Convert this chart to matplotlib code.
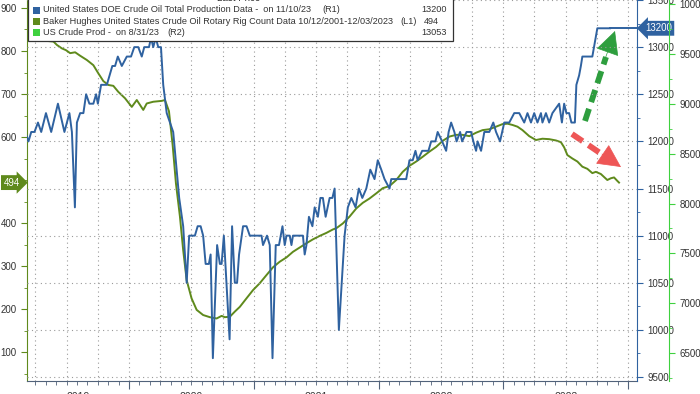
import numpy as np
import matplotlib
matplotlib.use('Agg')
import matplotlib.pyplot as plt
from matplotlib.patches import Rectangle
from matplotlib.transforms import Affine2D

plt.rcParams['font.family'] = ['Liberation Sans', 'DejaVu Sans']

# US weekly crude production (R1, kb/d) - dates as decimal years
prod_t = [2019.168, 2019.194, 2019.216, 2019.242, 2019.270, 2019.296, 2019.334, 2019.376, 2019.430, 2019.482,
          2019.522, 2019.542, 2019.566, 2019.582, 2019.608, 2019.634, 2019.656, 2019.682, 2019.714, 2019.736,
          2019.750, 2019.776, 2019.822, 2019.866, 2019.888, 2019.910, 2019.942, 2019.982,
          2020.016, 2020.042, 2020.074, 2020.102, 2020.122, 2020.160, 2020.176, 2020.194, 2020.214, 2020.234,
          2020.256, 2020.274, 2020.302, 2020.354, 2020.402, 2020.434, 2020.462, 2020.482, 2020.528, 2020.550,
          2020.574, 2020.594, 2020.614, 2020.640, 2020.654, 2020.672, 2020.706, 2020.728, 2020.742, 2020.760,
          2020.806, 2020.826, 2020.848, 2020.866, 2020.882, 2020.914, 2020.942, 2020.968,
          2021.062, 2021.074, 2021.106, 2021.128, 2021.150, 2021.176, 2021.202, 2021.230, 2021.248, 2021.262,
          2021.288, 2021.302, 2021.314, 2021.394, 2021.408, 2021.422, 2021.442, 2021.470, 2021.488, 2021.514,
          2021.534, 2021.554, 2021.576, 2021.608, 2021.630, 2021.648, 2021.682, 2021.728, 2021.754, 2021.782,
          2021.816, 2021.842, 2021.870, 2021.902, 2021.934, 2021.968, 2021.994,
          2022.022, 2022.048, 2022.088, 2022.102, 2022.222, 2022.248, 2022.274, 2022.296, 2022.314, 2022.350,
          2022.400, 2022.422, 2022.456, 2022.474, 2022.510, 2022.542, 2022.562, 2022.582, 2022.608, 2022.626,
          2022.654, 2022.670, 2022.706, 2022.742, 2022.760, 2022.782, 2022.794, 2022.822, 2022.848, 2022.888,
          2022.920, 2022.942, 2022.974,
          2023.008, 2023.048, 2023.088, 2023.128, 2023.168, 2023.194, 2023.222, 2023.248, 2023.274, 2023.302,
          2023.314, 2023.342, 2023.368, 2023.394, 2023.448, 2023.470, 2023.488, 2023.506, 2023.528, 2023.546,
          2023.574, 2023.586, 2023.608, 2023.622, 2023.634, 2023.662, 2023.682, 2023.714, 2023.754, 2023.856]
prod = [12100, 12000, 12100, 12100, 12200, 12100, 12300, 12100, 12400, 12100,
        12300, 12100, 11300, 12200, 12300, 12300, 12500, 12400, 12400, 12500,
        12400, 12600, 12600, 12800, 12800, 12900, 12800, 12900,
        12900, 13000, 13000, 12900, 13000, 13000, 13100, 13000, 13100, 13000,
        13000, 12600, 12300, 12100, 11400, 11100, 10500, 11000, 11000, 11100,
        11100, 11000, 10700, 10700, 10800, 9700, 10900, 10700, 10700, 11000,
        9900, 11100, 10500, 10500, 10800, 11100, 11100, 11000,
        11000, 10900, 11000, 10900, 9700, 10900, 10900, 11100, 10900, 11000,
        11000, 10900, 11000, 11000, 10800, 10900, 11200, 11100, 11300, 11200,
        11400, 11400, 11200, 11400, 11400, 11500, 10000, 11000, 11300, 11400,
        11300, 11500, 11400, 11500, 11700, 11600, 11800,
        11700, 11600, 11500, 11600, 11600, 11800, 11800, 11900, 11800, 11900,
        11900, 12000, 12000, 12100, 12000, 11900, 12100, 12200, 12100, 12000,
        12100, 12000, 12100, 12100, 12000, 11900, 12000, 11900, 12100, 12100,
        12200, 12100, 12000,
        12200, 12200, 12300, 12300, 12200, 12300, 12200, 12300, 12200, 12300,
        12200, 12300, 12200, 12300, 12400, 12200, 12400, 12300, 12300, 12200,
        12200, 12600, 12700, 12800, 12900, 12900, 12900, 12900, 13200, 13200]

# Baker Hughes oil rig count (L1)
rig_t = [2019.184, 2019.288, 2019.394, 2019.422, 2019.462, 2019.494, 2019.528, 2019.568, 2019.608, 2019.662,
         2019.714, 2019.754, 2019.794, 2019.834, 2019.874, 2019.914, 2019.968,
         2020.022, 2020.062, 2020.114, 2020.142, 2020.194, 2020.262, 2020.288, 2020.320, 2020.350, 2020.376,
         2020.408, 2020.434, 2020.462, 2020.501, 2020.542, 2020.594, 2020.648, 2020.702, 2020.742, 2020.768,
         2020.808, 2020.848, 2020.888, 2020.942, 2020.994,
         2021.048, 2021.102, 2021.154, 2021.208, 2021.262, 2021.314, 2021.368, 2021.422, 2021.474, 2021.528,
         2021.582, 2021.634, 2021.662, 2021.714, 2021.768, 2021.822, 2021.874, 2021.928, 2021.982,
         2022.034, 2022.088, 2022.142, 2022.194, 2022.248, 2022.302, 2022.354, 2022.408, 2022.462, 2022.514,
         2022.568, 2022.622, 2022.674, 2022.728, 2022.782, 2022.834, 2022.888, 2022.942, 2022.994,
         2023.034, 2023.074, 2023.114, 2023.154, 2023.208, 2023.262, 2023.314, 2023.368, 2023.422, 2023.462,
         2023.488, 2023.514, 2023.554, 2023.594, 2023.634, 2023.674, 2023.714, 2023.742, 2023.782, 2023.834,
         2023.862, 2023.888, 2023.914, 2023.928]
rigs = [834, 825, 822, 814, 806, 802, 795, 797, 789, 779,
        767, 748, 730, 721, 719, 705, 690,
        670, 686, 663, 678, 682, 684, 686, 660, 580, 492,
        415, 337, 267, 225, 198, 186, 181, 178, 184, 181,
        182, 194, 205, 225, 244,
        260, 279, 297, 310, 320, 333, 343, 353, 362, 370,
        377, 385, 388, 399, 415, 434, 447, 457, 469,
        481, 486, 500, 519, 533, 543, 554, 566, 577, 591,
        601, 605, 605, 602, 610, 616, 618, 624, 630,
        631, 628, 624, 616, 602, 593, 596, 595, 592, 588,
        576, 558, 550, 543, 531, 526, 516, 519, 514, 500,
        504, 506, 498, 494]

years = [2019, 2020, 2021, 2022, 2023]
legend_labels = ['United States DOE Crude Oil Total Production Data -  on 11/10/23',
                 'Baker Hughes United States Crude Oil Rotary Rig Count Data 10/12/2001-12/03/2023',
                 'US Crude Prod -  on 8/31/23']
legend_axis = ['(R1)', '(L1)', '(R2)']
legend_values = ['13200', '494', '13053']

BLUE = '#2f62a0'
OLIVE = '#5f8a1c'
LIME = '#3fd13f'
TXT = '#333333'
x0, x1 = 2019.182, 2024.072

fig = plt.figure(figsize=(7, 3.94), dpi=100)
ax = fig.add_axes([27 / 700, 13 / 394, 610 / 700, 381 / 394])
ax2 = ax.twinx()
ax3 = ax.twinx()

ax.plot(rig_t, rigs, color=OLIVE, lw=1.4, zorder=3)
ax2.plot(prod_t, prod, color=BLUE, lw=1.4, zorder=3)
ax2.plot([prod_t[-1], x1], [prod[-1], prod[-1]], color=BLUE, lw=1.4)

ax.set_xlim(x0, x1)
ax.set_ylim(32.6, 918.6)
ax2.set_ylim(9458, 13498)
ax3.set_ylim(6219, 10042)

# quarterly dotted grid + R1 horizontal grid
for q in np.arange(2019.25, 2024.01, 0.25):
    ax.axvline(q, color='#9a9a9a', lw=0.8, ls=(0, (1, 3)), zorder=1)
for v in range(9500, 13501, 500):
    ax2.axhline(v, color='#9a9a9a', lw=0.8, ls=(0, (1, 3)), zorder=1)

# x ticks: years long, months short, labels clipped at bottom
ax.set_xticks(range(2020, 2025))
ax.set_xticks(np.arange(2019.25, 2024.07, 1 / 12), minor=True)
ax.tick_params(axis='x', which='major', length=6, color='#51627a', labelbottom=False)
ax.tick_params(axis='x', which='minor', length=3, color='#51627a')
for y in years:
    c = (max(y, x0) + min(y + 1, x1)) / 2
    ax.text(c, -0.03, str(y), transform=ax.get_xaxis_transform(), ha='center', va='top',
            fontsize=7.5, color=TXT, clip_on=False)

# 500 is left out: the last-value tag sits there
ax.set_yticks([100, 200, 300, 400, 600, 700, 800, 900])
ax.set_yticks(range(50, 901, 50), minor=True)
ax.tick_params(axis='y', which='both', colors=OLIVE, labelcolor=TXT, labelsize=7, length=4)
ax.tick_params(axis='y', which='minor', length=2)

ax2.set_yticks(range(9500, 13501, 500))
ax2.set_yticks(range(9500, 13501, 250), minor=True)
ax2.tick_params(axis='y', which='both', colors=BLUE, labelcolor=TXT, labelsize=7, length=4)
ax2.tick_params(axis='y', which='minor', length=2)

ax3.spines['right'].set_position(('axes', 1.0525))
ax3.set_yticks(range(6500, 10001, 500))
ax3.set_yticks(range(6250, 10001, 250), minor=True)
ax3.tick_params(axis='y', which='both', colors=LIME, labelcolor=TXT, labelsize=7, length=4)
ax3.tick_params(axis='y', which='minor', length=2)

for a in (ax, ax2, ax3):
    a.spines['top'].set_visible(False)
ax.spines['right'].set_visible(False)
ax2.spines['left'].set_visible(False)
ax3.spines['left'].set_visible(False)
ax3.spines['bottom'].set_visible(False)
ax2.spines['bottom'].set_visible(False)
ax.spines['left'].set_color(OLIVE)
ax.spines['bottom'].set_color('#51627a')
ax2.spines['right'].set_color(BLUE)
ax3.spines['right'].set_color(LIME)

# last value tags
ax.text(-0.012, rigs[-1], str(rigs[-1]), transform=ax.get_yaxis_transform(), ha='right', va='center',
        color='white', fontsize=7, clip_on=False,
        bbox=dict(boxstyle='rarrow,pad=0.25', fc=OLIVE, ec='none'))
ax2.text(1.013, prod[-1], str(prod[-1]), transform=ax2.get_yaxis_transform(), ha='left', va='center',
         color='white', fontsize=7, clip_on=False, zorder=6,
         bbox=dict(boxstyle='larrow,pad=0.25', fc=BLUE, ec='none'))

# pixel transform (x from left, y from top)
px = Affine2D().scale(1 / 700, -1 / 394).translate(0, 1) + fig.transFigure

# dashed arrows
ax.plot([585, 606], [121, 57], transform=px, color='#2e9e3e', lw=4.2, ls=(0, (2.2, 1.2)),
        solid_capstyle='butt', dash_capstyle='butt', zorder=5)
ax.annotate('', xy=(615, 31), xytext=(604, 62), xycoords=px, textcoords=px,
            arrowprops=dict(arrowstyle='-|>,head_width=0.55,head_length=1.1', color='#2e9e3e',
                            lw=0.5, mutation_scale=14, shrinkA=0, shrinkB=0), zorder=5)
ax.plot([572, 606], [134, 157], transform=px, color='#ee5656', lw=4.2, ls=(0, (2.2, 1.2)),
        solid_capstyle='butt', dash_capstyle='butt', zorder=5)
ax.annotate('', xy=(621, 167), xytext=(602, 154), xycoords=px, textcoords=px,
            arrowprops=dict(arrowstyle='-|>,head_width=0.55,head_length=1.1', color='#ee5656',
                            lw=0.5, mutation_scale=14, shrinkA=0, shrinkB=0), zorder=5)

# legend box
fig.add_artist(Rectangle((27.5, -5), 425, 46, transform=px, fc='white', ec='#333333', lw=0.9, zorder=10))
fig.text(239 / 700, 1 - 3 / 394, 'Last Price', ha='center', va='bottom', fontsize=7, color=TXT, zorder=11)
axis_x = [322, 400, 167]
for i, col in enumerate([BLUE, OLIVE, LIME]):
    yy = 10 + i * 11.3
    fig.add_artist(Rectangle((33, yy - 3.5), 7, 7, transform=px, fc=col, ec='none', zorder=11))
    fig.text(43 / 700, 1 - yy / 394, legend_labels[i], ha='left', va='center', fontsize=6.6,
             color=TXT, zorder=11)
    fig.text(axis_x[i] / 700, 1 - yy / 394, legend_axis[i], ha='left', va='center', fontsize=6.6,
             color=TXT, zorder=11)
    if i == 1:
        fig.text(424 / 700, 1 - yy / 394, legend_values[i], ha='left', va='center', fontsize=6.6,
                 color=TXT, zorder=11)
    else:
        fig.text(447 / 700, 1 - yy / 394, legend_values[i], ha='right', va='center', fontsize=6.6,
                 color=TXT, zorder=11)

fig.savefig('out.png', dpi=100)
